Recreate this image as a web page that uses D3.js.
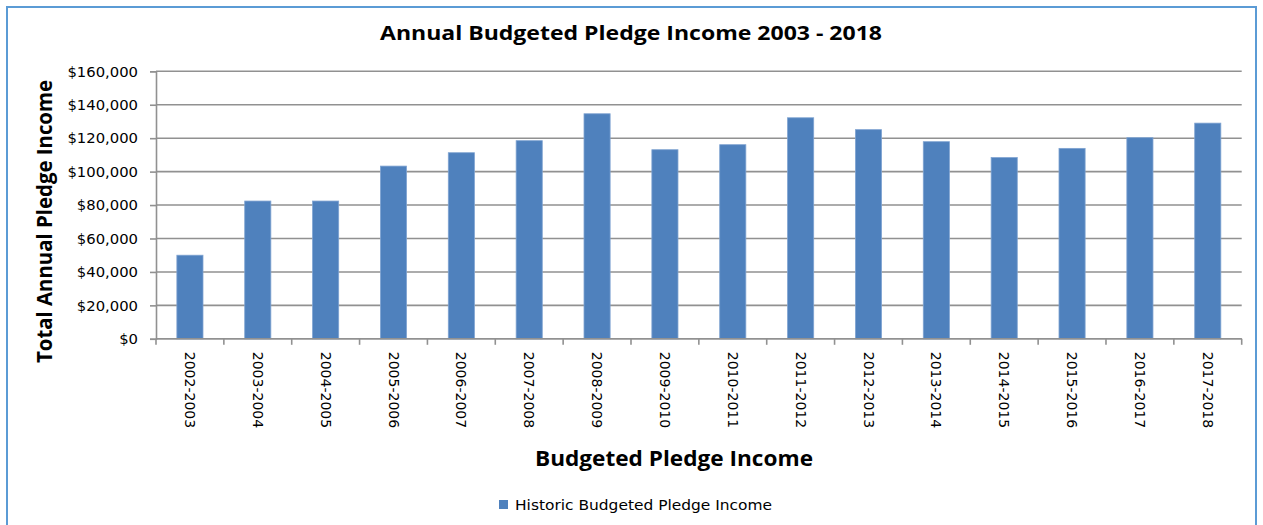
<!DOCTYPE html>
<html>
<head>
<meta charset="utf-8">
<script src="https://cdn.jsdelivr.net/npm/d3@7"></script>
<style>
  body { margin: 0; background: #fff; }
  svg { display: block; }
  .tick-label { font-family: "DejaVu Sans", sans-serif; font-size: 14px; fill: #000; }
  .y-label { font-size: 14.8px; }
  .bold-title { font-family: "Open Sans", sans-serif; font-weight: bold; fill: #000; }
</style>
</head>
<body>
<div class="chart"></div>
<script>
// Chart data
var categories = ["2002-2003", "2003-2004", "2004-2005", "2005-2006", "2006-2007", "2007-2008",
  "2008-2009", "2009-2010", "2010-2011", "2011-2012", "2012-2013", "2013-2014",
  "2014-2015", "2015-2016", "2016-2017", "2017-2018"];
var pledgeIncome = [50000, 82400, 82400, 103300, 111300, 118500, 134600, 113100,
  116100, 132200, 125100, 117900, 108400, 113900, 120300, 129000];
var yTicks = [0, 20000, 40000, 60000, 80000, 100000, 120000, 140000, 160000];
var seriesName = "Historic Budgeted Pledge Income";

var svgWidth = 1263;
var svgHeight = 525;
var margin = { top: 71.3, right: 21.3, bottom: 186.2, left: 156 };
var width = svgWidth - margin.left - margin.right;
var height = svgHeight - margin.top - margin.bottom;

var svg = d3.select(".chart")
  .append("svg")
  .attr("width", svgWidth)
  .attr("height", svgHeight);

// outer chart border
svg.append("rect")
  .attr("x", 7).attr("y", 7)
  .attr("width", 1249).attr("height", 540)
  .attr("fill", "none")
  .attr("stroke", "#5b9bd5")
  .attr("stroke-width", 2);

var chart = svg.append("g")
  .attr("transform", "translate(" + margin.left + "," + margin.top + ")");

var xScale = d3.scaleBand().domain(categories).range([0, width]).padding(0);
var yScale = d3.scaleLinear().domain([0, 160000]).range([height, 0]);

// gridlines
chart.append("g")
  .selectAll("line")
  .data(yTicks)
  .enter()
  .append("line")
  .attr("x1", 0).attr("x2", width)
  .attr("y1", function(d) { return yScale(d); })
  .attr("y2", function(d) { return yScale(d); })
  .attr("stroke", "#919191")
  .attr("stroke-width", 1.6);

// bars
var barWidth = xScale.bandwidth() * 0.385;
chart.append("g")
  .selectAll("rect")
  .data(pledgeIncome)
  .enter()
  .append("rect")
  .attr("x", function(d, i) { return xScale(categories[i]) + (xScale.bandwidth() - barWidth) / 2; })
  .attr("y", function(d) { return yScale(d); })
  .attr("width", barWidth)
  .attr("height", function(d) { return height - yScale(d); })
  .attr("fill", "#4f81bd")
  .attr("stroke", "#7fa3d1")
  .attr("stroke-width", 0.8);

// y axis
var leftAxis = d3.axisLeft(yScale)
  .tickValues(yTicks)
  .tickSize(6)
  .tickPadding(12)
  .tickFormat(function(d) { return "$" + d3.format(",")(d); });

var yAxisG = chart.append("g").call(leftAxis);
yAxisG.select(".domain").attr("stroke", "#919191").attr("stroke-width", 1.6);
yAxisG.selectAll(".tick line").attr("stroke", "#919191").attr("stroke-width", 1.6);
yAxisG.selectAll(".tick text").attr("class", "tick-label y-label").attr("font-family", null).attr("font-size", null);

// x axis with ticks at category boundaries
var xAxisG = chart.append("g").attr("transform", "translate(0," + height + ")");
xAxisG.append("line")
  .attr("x1", 0).attr("x2", width)
  .attr("stroke", "#919191").attr("stroke-width", 1.6);
var boundaries = categories.map(function(c) { return xScale(c); }).concat([width]);
xAxisG.selectAll(".xtick")
  .data(boundaries)
  .enter()
  .append("line")
  .attr("class", "xtick")
  .attr("x1", function(d) { return d; }).attr("x2", function(d) { return d; })
  .attr("y1", 0).attr("y2", 6)
  .attr("stroke", "#919191").attr("stroke-width", 1.6);

xAxisG.selectAll(".xlabel")
  .data(categories)
  .enter()
  .append("text")
  .attr("class", "tick-label xlabel")
  .attr("transform", function(d) {
    return "translate(" + (xScale(d) + xScale.bandwidth() / 2) + ",13) rotate(90)";
  })
  .attr("dy", "0.35em")
  .attr("text-anchor", "start")
  .text(function(d) { return d; });

// chart title
svg.append("text")
  .attr("class", "bold-title")
  .attr("x", 631).attr("y", 40)
  .attr("text-anchor", "middle")
  .attr("font-size", "20px")
  .attr("textLength", 502)
  .attr("lengthAdjust", "spacingAndGlyphs")
  .text("Annual Budgeted Pledge Income 2003 - 2018");

// y axis title
svg.append("text")
  .attr("class", "bold-title")
  .attr("transform", "translate(52,221.5) rotate(-90)")
  .attr("text-anchor", "middle")
  .attr("font-size", "21px")
  .attr("textLength", 283)
  .attr("lengthAdjust", "spacingAndGlyphs")
  .text("Total Annual Pledge Income");

// x axis title
svg.append("text")
  .attr("class", "bold-title")
  .attr("x", 674).attr("y", 466)
  .attr("text-anchor", "middle")
  .attr("font-size", "21px")
  .attr("textLength", 278)
  .attr("lengthAdjust", "spacingAndGlyphs")
  .text("Budgeted Pledge Income");

// legend
var legend = svg.append("g").attr("transform", "translate(499,500)");
legend.append("rect")
  .attr("width", 9).attr("height", 9)
  .attr("fill", "#4f81bd");
legend.append("text")
  .attr("class", "tick-label")
  .attr("x", 16).attr("y", 10)
  .attr("textLength", 257)
  .attr("lengthAdjust", "spacingAndGlyphs")
  .text(seriesName);
</script>
</body>
</html>
